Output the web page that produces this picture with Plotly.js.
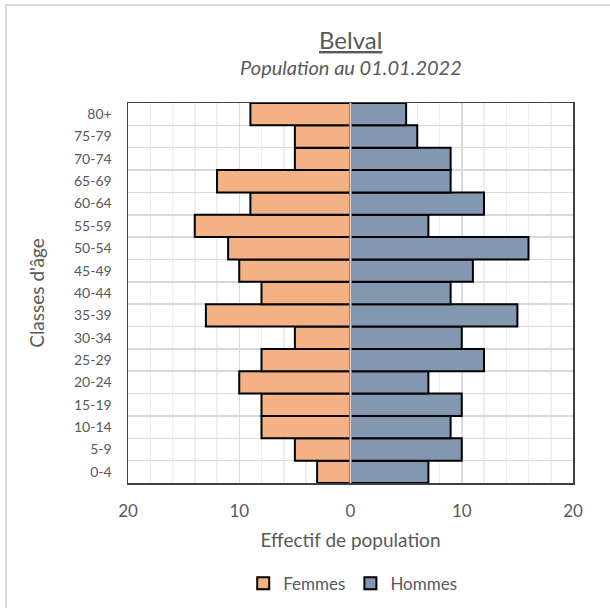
<!DOCTYPE html>
<html><head><meta charset="utf-8">
<script src="https://cdn.plot.ly/plotly-3.0.1.min.js"></script>
<style>
html,body{margin:0;padding:0;background:#fff;}
#frame{position:absolute;left:5px;top:4px;width:620px;height:620px;border-left:2px solid #d9d9d9;border-top:2px solid #d9d9d9;}
#chart{position:absolute;left:0;top:0;width:610px;height:608px;}
</style></head>
<body>
<div id="frame"></div>
<div id="chart"></div>
<script>
const categories = ["0-4","5-9","10-14","15-19","20-24","25-29","30-34","35-39","40-44","45-49","50-54","55-59","60-64","65-69","70-74","75-79","80+"];
const femmes = [3,5,8,8,10,8,5,13,8,10,11,14,9,12,5,5,9];
const hommes = [7,10,9,10,7,12,10,15,9,11,16,7,12,9,9,6,5];
const xTickVals = [-20,-10,0,10,20];
const xTickText = ["20","10","0","10","20"];

const pos = categories.map((c,i)=>i);
const font = "Lato, 'Open Sans', sans-serif";
const grey = "#595959";

const traces = [
  {type:"bar", orientation:"h", name:"Femmes", y:pos, x:femmes.map(v=>-v),
   marker:{color:"#F4B183", line:{color:"#000", width:2}}, hoverinfo:"skip"},
  {type:"bar", orientation:"h", name:"Hommes", y:pos, x:hommes,
   marker:{color:"#8497B0", line:{color:"#000", width:2}}, hoverinfo:"skip"}
];

const layout = {
  width:610, height:608,
  margin:{l:128, r:37, t:103, b:125, autoexpand:false},
  paper_bgcolor:"rgba(0,0,0,0)", plot_bgcolor:"#fff",
  barmode:"relative", bargap:0,
  font:{family:font, color:grey},
  showlegend:true,
  legend:{orientation:"h", x:0.505, xanchor:"center", yref:"container", y:0.04, yanchor:"middle",
    font:{size:17, color:grey}, itemwidth:30, traceorder:"normal"},
  xaxis:{range:[-20,20], tickvals:xTickVals, ticktext:xTickText, showgrid:true, gridcolor:"#d9d9d9", gridwidth:1.5,
    minor:{dtick:2, tick0:0, showgrid:true, gridcolor:"#eeeeee", gridwidth:1.5},
    zeroline:false, showline:true, mirror:true, linecolor:"#404040", linewidth:1.5,
    ticks:"", tickfont:{size:17, color:grey}, ticklabelstandoff:12,
    title:{text:"Effectif de population", font:{size:19, color:grey}, standoff:14}},
  yaxis:{range:[-0.5,16.5], tickvals:pos, ticktext:categories, showgrid:false,
    minor:{tick0:0.5, dtick:1, showgrid:true, gridcolor:"#d9d9d9", gridwidth:1.5},
    zeroline:false, showline:true, mirror:true, linecolor:"#404040", linewidth:1.5,
    ticks:"", tickfont:{size:14, color:grey}, ticklabelstandoff:12,
    title:{text:"Classes d'âge", font:{size:19, color:grey}, standoff:24}},
  shapes:[{type:"line", xref:"x", yref:"paper", x0:0, x1:0, y0:0, y1:1, layer:"above",
    line:{color:"#d9d9d9", width:2}}],
  annotations:[
    {xref:"paper", yref:"paper", x:0.5, y:1, yshift:64, xanchor:"center", yanchor:"middle", showarrow:false,
     text:"<u>Belval</u>", font:{size:24, color:grey, family:font}},
    {xref:"paper", yref:"paper", x:0.5, y:1, yshift:36, xanchor:"center", yanchor:"middle", showarrow:false,
     text:"<i>Population au 01.01.2022</i>", font:{size:20, color:grey, family:font}}
  ]
};
Plotly.newPlot("chart", traces, layout, {displayModeBar:false, staticPlot:true});
</script>
</body></html>
